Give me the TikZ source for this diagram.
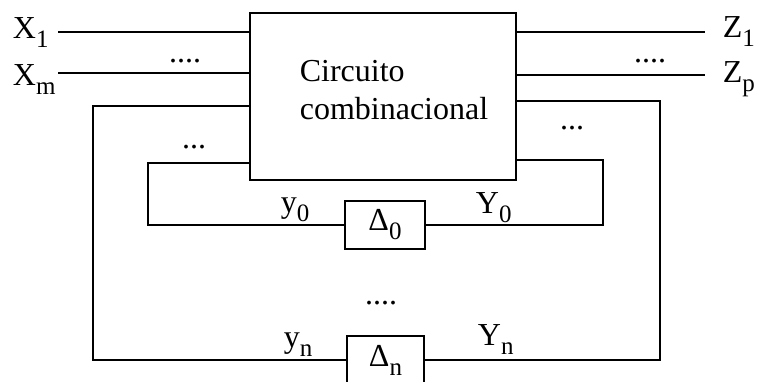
\documentclass[tikz,border=0pt]{standalone}
\usepackage{fontspec}
\setmainfont{Liberation Serif}
\newcommand{\lowidx}[1]{\raisebox{-9pt}{\fontsize{25}{25}\selectfont #1}}
\begin{document}
\begin{tikzpicture}[x=1pt, y=-1pt, line width=1.8pt,
    lbl/.style={font=\fontsize{32}{38}\selectfont, inner sep=0pt},
    delaybox/.style={draw, minimum width=80pt, minimum height=48pt, inner sep=0pt,
        font=\fontsize{32}{38}\selectfont}]
    \useasboundingbox (0,0) rectangle (758,381);

    % bloque combinacional
    \node[draw, minimum width=266pt, minimum height=167pt, inner sep=0pt] (cc) at (383,96.5) {};
    \node[lbl, align=left] (cctext) at (394,90) {Circuito\\combinacional};

    % retardos
    \node[delaybox] (d0) at (385,225) {Δ\lowidx{0}};
    \node[delaybox, minimum width=77pt] (dn) at (385.5,360) {Δ\lowidx{n}};

    % entradas
    \node[lbl, anchor=base west] (x1) at (12,38) {X\lowidx{1}};
    \node[lbl, anchor=base west] (xm) at (12,85) {X\lowidx{m}};
    \coordinate (in1) at (58,32);
    \coordinate (inm) at (58,73);
    \draw (in1) -- (in1 -| cc.west);
    \draw (inm) -- (inm -| cc.west);

    % salidas
    \node[lbl, anchor=base west] (z1) at (722,37) {Z\lowidx{1}};
    \node[lbl, anchor=base west] (zp) at (722,82) {Z\lowidx{p}};
    \coordinate (out1) at (705,32);
    \coordinate (outp) at (705,75);
    \draw (out1 -| cc.east) -- (out1);
    \draw (outp -| cc.east) -- (outp);

    % lazos de realimentacion
    \draw (cc.west |- 0,163) -- (148,163) |- (d0.west);
    \draw (cc.east |- 0,160) -- (603,160) |- (d0.east);
    \draw (cc.west |- 0,106) -- (93,106) |- (dn.west);
    \draw (cc.east |- 0,101) -- (660,101) |- (dn.east);

    % variables de estado
    \node[lbl, anchor=base west] (y0) at (280,212) {y\lowidx{0}};
    \node[lbl, anchor=base west] (Y0) at (475,213) {Y\lowidx{0}};
    \node[lbl, anchor=base west] (yn) at (283,347) {y\lowidx{n}};
    \node[lbl, anchor=base west] (Yn) at (477,345) {Y\lowidx{n}};

    % puntos suspensivos
    \node[lbl, anchor=base] (dotsx) at (185,62) {....};
    \node[lbl, anchor=base] (dotsz) at (650,62) {....};
    \node[lbl, anchor=base] (dotsl) at (194,148) {...};
    \node[lbl, anchor=base] (dotsr) at (572,129) {...};
    \node[lbl, anchor=base] (dotsd) at (381,304) {....};
\end{tikzpicture}
\end{document}
